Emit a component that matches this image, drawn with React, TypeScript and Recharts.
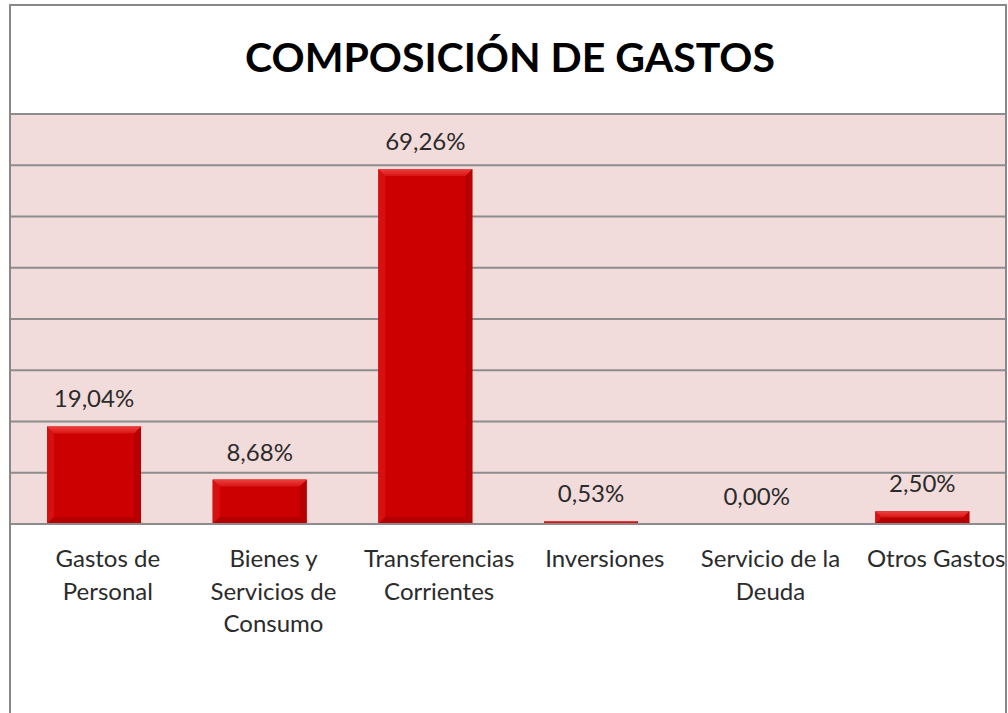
import React from "react";
import { Bar, BarChart, CartesianGrid, LabelList, XAxis, YAxis } from "recharts";

const CATEGORIES = [
  "Gastos de Personal",
  "Bienes y Servicios de Consumo",
  "Transferencias Corrientes",
  "Inversiones",
  "Servicio de la Deuda",
  "Otros Gastos",
];
const SHARES = [19.04, 8.68, 69.26, 0.53, 0.0, 2.5];
const Y_TICKS = [0, 10, 20, 30, 40, 50, 60, 70, 80];

const data = CATEGORIES.map((name, i) => ({ name, value: SHARES[i] }));

const FONT = "Lato, 'Open Sans', sans-serif";
const GRID = "#8c8c8c";
const TEXT = "#2b2b2b";

function wrap(text: string, max: number) {
  const words = text.split(" ");
  const lines: string[] = [];
  let cur = "";
  for (const w of words) {
    const next = cur ? cur + " " + w : w;
    if (next.length > max && cur) {
      lines.push(cur);
      cur = w;
    } else {
      cur = next;
    }
  }
  if (cur) lines.push(cur);
  return lines;
}

function CategoryTick(props: any) {
  const { x, y, payload } = props;
  const lines = wrap(String(payload.value), 14);
  return (
    <text x={x + 14} y={y + 35} textAnchor="middle" fontSize={24} fill={TEXT} fontFamily={FONT}>
      {lines.map((line, i) => (
        <tspan key={i} x={x + 14} dy={i === 0 ? 0 : 32.5}>
          {line}
        </tspan>
      ))}
    </text>
  );
}

function BevelBar(props: any) {
  const { x, y, width, height } = props;
  if (!height || height <= 0) return null;
  const b = Math.min(7, height / 2, width / 2);
  return (
    <g>
      <rect x={x} y={y} width={width} height={height} fill="#cc0000" />
      {/* left / right / bottom edges */}
      <polygon points={`${x},${y} ${x + b},${y + b} ${x + b},${y + height - b} ${x},${y + height}`} fill="#d61010" />
      <polygon
        points={`${x + width},${y} ${x + width - b},${y + b} ${x + width - b},${y + height - b} ${x + width},${y + height}`}
        fill="#b80000"
      />
      <polygon
        points={`${x},${y + height} ${x + b},${y + height - b} ${x + width - b},${y + height - b} ${x + width},${y + height}`}
        fill="#b40000"
      />
      {/* top bevel */}
      <polygon
        points={`${x},${y} ${x + width},${y} ${x + width - b},${y + b} ${x + b},${y + b}`}
        fill="url(#topBevel)"
      />
    </g>
  );
}

export default function App() {
  return (
    <div style={{ position: "absolute", left: 0, top: 0, width: 1008, height: 713, overflow: "hidden", background: "#fff" }}>
      <BarChart width={1008} height={713} data={data} margin={{ top: 114, right: 3, bottom: 0, left: 11 }}>
        <defs>
          <linearGradient id="topBevel" x1="0" y1="0" x2="0" y2="1">
            <stop offset="0%" stopColor="#ee4040" />
            <stop offset="100%" stopColor="#d81414" />
          </linearGradient>
        </defs>
        <CartesianGrid vertical={false} fill="#f2dcdb" stroke={GRID} strokeWidth={2} fillOpacity={1} />
        <YAxis hide domain={[0, 80]} ticks={Y_TICKS} />
        <XAxis
          dataKey="name"
          height={189}
          interval={0}
          tickLine={false}
          axisLine={{ stroke: GRID, strokeWidth: 2 }}
          tick={<CategoryTick />}
        />
        <Bar dataKey="value" barSize={94} shape={<BevelBar />} isAnimationActive={false}>
          <LabelList
            dataKey="value"
            position="top"
            offset={19}
            fontSize={24}
            fill={TEXT}
            fontFamily={FONT}
            formatter={(v: any) => Number(v).toFixed(2).replace(".", ",") + "%"}
          />
        </Bar>
      </BarChart>
      <svg width={1008} height={110} style={{ position: "absolute", left: 0, top: 0 }}>
        <text
          x={510}
          y={72}
          textAnchor="middle"
          fontSize={40}
          fontWeight={700}
          fontFamily={FONT}
          fill="#000"
          textLength={530}
          lengthAdjust="spacingAndGlyphs"
        >
          COMPOSICIÓN DE GASTOS
        </text>
      </svg>
      <div
        style={{
          position: "absolute",
          left: 9,
          top: 4,
          width: 994,
          height: 720,
          borderLeft: "2px solid #888",
          borderTop: "2px solid #888",
          borderRight: "2px solid #888",
          pointerEvents: "none",
        }}
      />
    </div>
  );
}
